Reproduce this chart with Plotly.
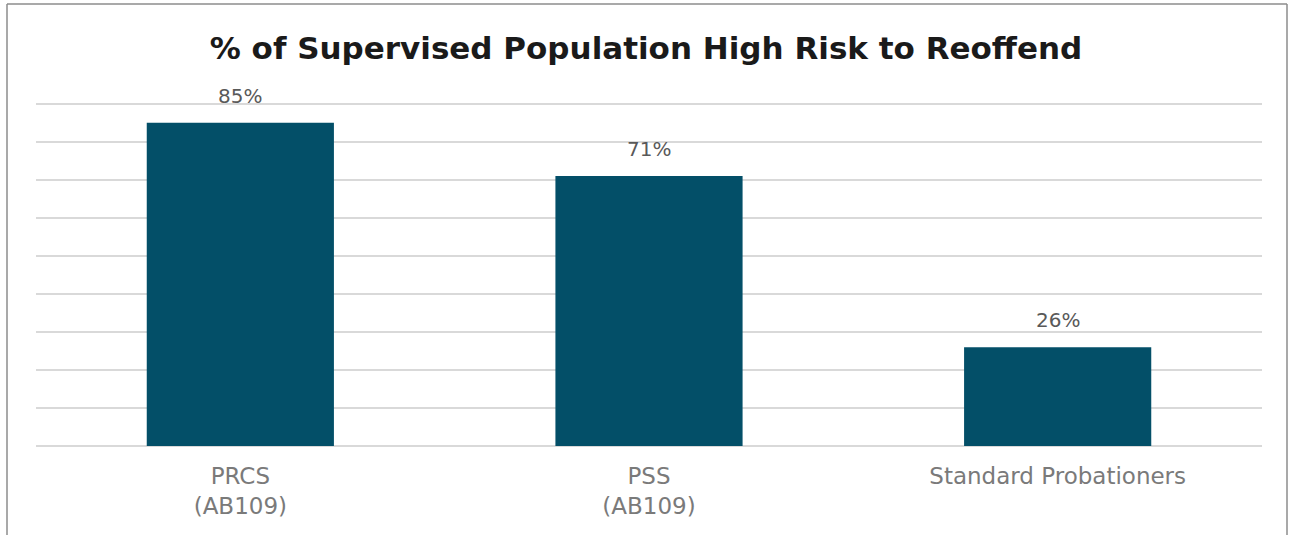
import plotly.graph_objects as go

categories = ["PRCS<br>(AB109)", "PSS<br>(AB109)", "Standard Probationers"]
values = [85, 71, 26]
value_labels = ["85%", "71%", "26%"]
title_text = "% of Supervised Population High Risk to Reoffend"

BAR_COLOR = "#034f68"
TITLE_FONT = "DejaVu Sans"
FONT = "DejaVu Sans"

fig = go.Figure()
fig.add_trace(go.Bar(
    x=categories, y=values,
    marker=dict(color=BAR_COLOR, line=dict(width=0)),
    hoverinfo="skip",
))

for c, v, t in zip(categories, values, value_labels):
    fig.add_annotation(x=c, y=v, text=t, showarrow=False, yanchor="bottom",
                       yshift=13, font=dict(family=FONT, size=20, color="#595959"))

# frame (plot area: x 36..1262 px, y 100..446 px)
line = dict(color="#8c8c8c", width=1.5)
L = (7 - 36) / 1226
R = (1287 - 36) / 1226
T = (446 - 4) / 346
B = -0.3
fig.add_shape(type="line", xref="paper", yref="paper", x0=L, x1=L, y0=B, y1=T, line=line)
fig.add_shape(type="line", xref="paper", yref="paper", x0=L, x1=R, y0=T, y1=T, line=line)
fig.add_shape(type="line", xref="paper", yref="paper", x0=R, x1=R, y0=B, y1=T, line=line)

fig.update_layout(
    width=1292, height=535,
    margin=dict(l=36, r=30, t=100, b=89),
    paper_bgcolor="white", plot_bgcolor="white",
    bargap=0.542,
    showlegend=False,
    title=dict(text="<b>" + title_text + "</b>", x=0.5, xanchor="center",
               y=1 - 48 / 535, yanchor="middle",
               font=dict(family=TITLE_FONT, size=31, color="#1a1a1a")),
    xaxis=dict(showgrid=False, showline=False, ticks="", zeroline=False,
               ticklabelstandoff=14,
               tickfont=dict(family=FONT, size=23, color="#7a7a7a")),
    yaxis=dict(range=[0, 91], tickvals=[0, 10, 20, 30, 40, 50, 60, 70, 80, 90],
               showticklabels=False, showgrid=True,
               gridcolor="#d9d9d9", gridwidth=1.5, zeroline=True,
               zerolinecolor="#d9d9d9", zerolinewidth=1.5, showline=False),
)

fig.write_html("out.html")
